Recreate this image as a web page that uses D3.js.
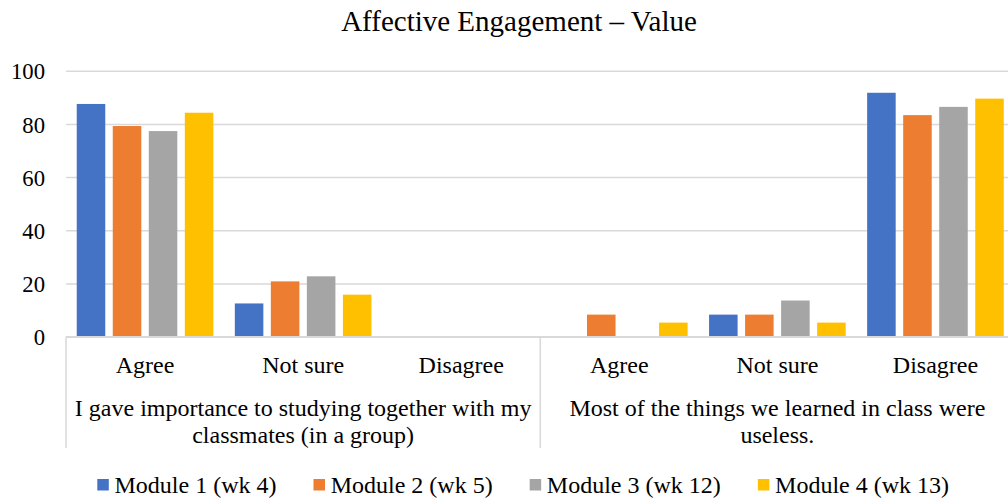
<!DOCTYPE html>
<html><head><meta charset="utf-8">
<script src="https://cdn.jsdelivr.net/npm/d3@7/dist/d3.min.js"></script>
<style>
html,body{margin:0;padding:0;background:#fff;}
svg{display:block;}
</style></head>
<body><svg id="c" width="1008" height="499"></svg>
<script>
const title = "Affective Engagement \u2013 Value";
const categories = ["Agree", "Not sure", "Disagree"];
const questionLines = [
  ["I gave importance to studying together with my", "classmates (in a group)"],
  ["Most of the things we learned in class were", "useless."]
];
const seriesNames = ["Module 1 (wk 4)", "Module 2 (wk 5)", "Module 3 (wk 12)", "Module 4 (wk 13)"];
const module1 = [87.5, 12.5, 0, 0, 8.3, 91.7];
const module2 = [79.2, 20.8, 0, 8.3, 8.3, 83.3];
const module3 = [77.3, 22.7, 0, 0, 13.6, 86.4];
const module4 = [84.2, 15.8, 0, 5.3, 5.3, 89.5];
const yTicks = [0, 20, 40, 60, 80, 100];
const colors = ["#4472C4", "#ED7D31", "#A5A5A5", "#FFC000"];

const FONT = '"Liberation Serif"';
const seriesValues = [module1, module2, module3, module4];
const slots = d3.range(questionLines.length * categories.length);

const svg = d3.select("#c");
const L = 66, R = 1014.5, T = 70.7, B = 336.7;

const y = d3.scaleLinear().domain([0, 100]).range([B, T]);
const x0 = d3.scaleBand().domain(slots).range([L, R]).paddingInner(0).paddingOuter(0);
const x1 = d3.scaleBand().domain(d3.range(seriesNames.length)).range([0, x0.bandwidth()])
  .paddingInner(0.208).paddingOuter(0.298);
const xq = d3.scaleBand().domain(d3.range(questionLines.length)).range([L, R]);

function txt(sel, size) {
  return sel.style("font-family", FONT).style("font-size", size + "px").attr("fill", "#000");
}

// title
txt(svg.append("text").attr("x", 519).attr("y", 30.5).attr("text-anchor", "middle"), 29).text(title);

// gridlines
const yAxis = d3.axisLeft(y).tickValues(yTicks).tickSize(-(R - L)).tickPadding(21);
const gy = svg.append("g").attr("transform", `translate(${L},0)`).call(yAxis);
gy.select(".domain").remove();
gy.selectAll(".tick line").attr("stroke", "#d9d9d9").attr("stroke-width", 1.5);
txt(gy.selectAll(".tick text"), 22.7).attr("dy", "0.36em");

// bars
const g = svg.append("g");
seriesValues.forEach((vals, s) => {
  g.selectAll(null).data(slots).enter().append("rect")
    .attr("x", i => x0(i) + x1(s))
    .attr("width", x1.bandwidth())
    .attr("y", i => y(vals[i]))
    .attr("height", i => B - y(vals[i]))
    .attr("fill", colors[s]);
});

// bottom axis line + separators
svg.append("line").attr("x1", L).attr("x2", R).attr("y1", B).attr("y2", B)
  .attr("stroke", "#d9d9d9").attr("stroke-width", 1.5);
const seps = d3.range(questionLines.length + 1).map(q => q < questionLines.length ? xq(q) : R);
svg.selectAll(null).data(seps).enter().append("line")
  .attr("x1", d => d).attr("x2", d => d).attr("y1", B).attr("y2", 448)
  .attr("stroke", "#d9d9d9").attr("stroke-width", 1.5);

// category labels
txt(svg.selectAll(null).data(slots).enter().append("text")
  .attr("x", i => x0(i) + x0.bandwidth() / 2).attr("y", 372.7)
  .attr("text-anchor", "middle"), 24)
  .text(i => categories[i % categories.length]);

// question labels
questionLines.forEach((lines, q) => {
  lines.forEach((ln, k) => {
    txt(svg.append("text").attr("x", xq(q) + xq.bandwidth() / 2).attr("y", 416 + k * 27)
      .attr("text-anchor", "middle"), 24).text(ln);
  });
});

// legend
const lg = svg.append("g");
const items = lg.selectAll("g").data(seriesNames).enter().append("g");
items.append("rect").attr("width", 11.5).attr("height", 11.5).attr("y", 479).attr("fill", (d, i) => colors[i]);
txt(items.append("text").attr("x", 17.2).attr("y", 492.5), 24).text(d => d);
let cx = 0;
const gap = 37;
items.each(function () {
  const w = 17.2 + this.querySelector("text").getComputedTextLength();
  d3.select(this).attr("transform", `translate(${cx},0)`);
  cx += w + gap;
});
lg.attr("transform", `translate(${97.3},0)`);
</script></body></html>
